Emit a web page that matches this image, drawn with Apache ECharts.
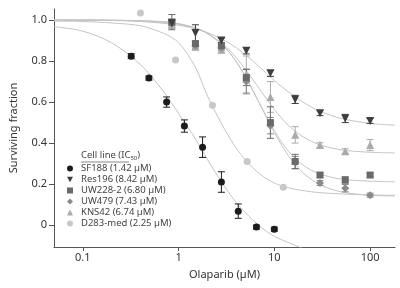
<!DOCTYPE html>
<html>
<head>
<meta charset="utf-8">
<script src="https://cdn.jsdelivr.net/npm/echarts@6/dist/echarts.min.js"></script>
<style>
  html, body { margin: 0; padding: 0; background: #fff; }
  #chart { width: 400px; height: 288px; }
</style>
</head>
<body>
<div id="chart"></div>
<script>
// doses in µM, values as surviving fraction
const sfDose = [0.32, 0.49, 0.75, 1.15, 1.78, 2.8, 4.2, 6.5, 10]
const sf188 = [0.824, 0.717, 0.6, 0.483, 0.38, 0.21, 0.068, -0.01, -0.02]
const sf188Err = [0.012, 0.01, 0.025, 0.03, 0.05, 0.05, 0.035, 0.01, 0.01]

const dose = [0.85, 1.5, 2.8, 5.1, 9.1, 16.5, 30, 55, 100]
const res196 = [0.985, 0.937, 0.9, 0.85, 0.74, 0.613, 0.546, 0.52, 0.508]
const res196Err = [0.01, 0.04, 0.012, 0.015, 0.015, 0.02, 0.012, 0.02, 0.012]
const uw228 = [0.99, 0.885, 0.875, 0.72, 0.5, 0.31, 0.244, 0.22, 0.244]
const uw228Err = [0.037, 0.012, 0.015, 0.04, 0.077, 0.035, 0.012, 0.015, 0.01]
const uw479 = [0.985, 0.875, 0.865, 0.7, 0.485, 0.305, 0.205, 0.18, 0.146]
const uw479Err = [0.02, 0.012, 0.012, 0.06, 0.04, 0.03, 0.012, 0.018, 0.01]
const kns42 = [0.98, 0.87, 0.855, 0.735, 0.625, 0.44, 0.39, 0.36, 0.39]
const kns42Err = [0.02, 0.015, 0.015, 0.09, 0.075, 0.04, 0.012, 0.012, 0.027]

const d283Dose = [0.4, 0.93, 2.26, 5.2, 12.4]
const d283 = [1.034, 0.805, 0.585, 0.31, 0.185]

// fitted curves
const curveX = [0.05, 0.1, 0.2, 0.4, 0.7, 1, 1.5, 2, 3, 4, 5, 7, 10, 14, 20, 30, 50, 100, 182]
const sf188Fit = [0.968, 0.946, 0.889, 0.783, 0.65, 0.544, 0.42, 0.32, 0.19, 0.11, 0.06, -0.005, -0.055, -0.085, -0.115]
const res196Fit = [1.0, 1.0, 0.998, 0.993, 0.984, 0.975, 0.958, 0.939, 0.901, 0.865, 0.831, 0.772, 0.705, 0.65, 0.599, 0.555, 0.52, 0.496, 0.487]
const uw228Fit = [1.0, 1.0, 0.999, 0.997, 0.992, 0.983, 0.962, 0.937, 0.871, 0.797, 0.723, 0.593, 0.46, 0.361, 0.292, 0.249, 0.224, 0.214, 0.211]
const uw479Fit = [1.0, 1.0, 0.999, 0.996, 0.99, 0.981, 0.96, 0.934, 0.87, 0.797, 0.725, 0.594, 0.452, 0.339, 0.254, 0.197, 0.162, 0.145, 0.142]
const kns42Fit = [1.0, 1.0, 0.999, 0.996, 0.989, 0.98, 0.96, 0.934, 0.877, 0.817, 0.76, 0.664, 0.564, 0.487, 0.43, 0.391, 0.367, 0.355, 0.352]
const d283Fit = [0.995, 0.993, 0.986, 0.972, 0.935, 0.89, 0.77, 0.63, 0.47, 0.375, 0.318, 0.25, 0.205, 0.182, 0.168, 0.158, 0.152, 0.147, 0.145]

const xTicks = [0.1, 1, 10, 100]
const yTicks = [0, 0.2, 0.4, 0.6, 0.8, 1.0]

const FONT = 'Noto Sans'
const curveColor = '#c4c4c4'
const lg = v => Math.log10(v)

const lines = [
  { name: 'SF188 (1.42 µM)', x: sfDose, y: sf188, err: sf188Err, fit: sf188Fit, color: '#1c1c1c', symbol: 'circle', size: 7 },
  { name: 'Res196 (8.42 µM)', x: dose, y: res196, err: res196Err, fit: res196Fit, color: '#3e3e3e', symbol: 'path://M0,0 L10,0 L5,9 Z', size: 8 },
  { name: 'UW228-2 (6.80 µM)', x: dose, y: uw228, err: uw228Err, fit: uw228Fit, color: '#6a6a6a', symbol: 'rect', size: 7 },
  { name: 'UW479 (7.43 µM)', x: dose, y: uw479, err: uw479Err, fit: uw479Fit, color: '#8a8a8a', symbol: 'diamond', size: 8 },
  { name: 'KNS42 (6.74 µM)', x: dose, y: kns42, err: kns42Err, fit: kns42Fit, color: '#ababab', symbol: 'triangle', size: 8 },
  { name: 'D283-med (2.25 µM)', x: d283Dose, y: d283, err: null, fit: d283Fit, color: '#c8c8c8', symbol: 'circle', size: 7 }
]

const chart = echarts.init(document.getElementById('chart'), null, { renderer: 'canvas' })

const series = []
lines.forEach(l => {
  series.push({
    type: 'line',
    silent: true,
    data: l.fit.map((v, i) => [lg(curveX[i]), v]),
    smooth: 0.3,
    showSymbol: false,
    symbol: 'none',
    lineStyle: { color: curveColor, width: 1 },
    z: 1
  })
})

lines.slice().reverse().forEach(l => {
  if (l.err) {
    series.push({
      type: 'custom',
      silent: true,
      z: 2,
      data: l.x.map((x, i) => [lg(x), l.y[i] - l.err[i], l.y[i] + l.err[i]]),
      renderItem: (params, api) => {
        const lo = api.coord([api.value(0), api.value(1)])
        const hi = api.coord([api.value(0), api.value(2)])
        const w = 3.5
        const style = { stroke: l.color, lineWidth: 1 }
        return {
          type: 'group',
          children: [
            { type: 'line', shape: { x1: lo[0], y1: lo[1], x2: hi[0], y2: hi[1] }, style },
            { type: 'line', shape: { x1: lo[0] - w, y1: lo[1], x2: lo[0] + w, y2: lo[1] }, style },
            { type: 'line', shape: { x1: hi[0] - w, y1: hi[1], x2: hi[0] + w, y2: hi[1] }, style }
          ]
        }
      }
    })
  }
  series.push({
    name: l.name,
    type: 'scatter',
    data: l.x.map((x, i) => [lg(x), l.y[i]]),
    symbol: l.symbol,
    symbolSize: l.size,
    itemStyle: { color: l.color, opacity: 1 },
    z: 3
  })
})

chart.setOption({
  animation: false,
  textStyle: { fontFamily: FONT },
  grid: { left: 53, right: 5, top: 9, bottom: 41 },
  legend: {
    data: lines.map(l => l.name),
    orient: 'vertical',
    left: 67,
    top: 163,
    itemWidth: 6,
    itemHeight: 6,
    itemGap: 0,
    padding: 0,
    textStyle: { fontSize: 9.5, color: '#444', fontFamily: FONT, lineHeight: 11, padding: [0, 0, 0, 3] },
    selectedMode: false
  },
  graphic: [
    {
      type: 'text',
      left: 81,
      top: 150,
      style: {
        text: '{a|Cell line (IC}{s|50}{a|)}',
        rich: {
          a: { fontSize: 9.5, fill: '#444', fontFamily: FONT },
          s: { fontSize: 6, fill: '#444', fontFamily: FONT, padding: [6, 0, 0, 0] }
        }
      }
    },
    {
      type: 'line',
      shape: { x1: 81, y1: 162, x2: 129, y2: 162 },
      style: { stroke: '#555', lineWidth: 0.7 }
    }
  ],
  xAxis: {
    type: 'value',
    min: lg(0.05),
    max: lg(182),
    name: 'Olaparib (µM)',
    nameLocation: 'middle',
    nameGap: 22,
    nameTextStyle: { fontSize: 11, color: '#333', fontFamily: FONT },
    axisLine: { onZero: false, lineStyle: { color: '#555', width: 1 } },
    axisTick: { show: true, length: 4, customValues: xTicks.map(lg), lineStyle: { color: '#555' } },
    axisLabel: {
      customValues: xTicks.map(lg),
      fontSize: 11,
      color: '#333',
      margin: 5,
      formatter: v => String(xTicks.find(t => Math.abs(lg(t) - v) < 1e-6))
    },
    splitLine: { show: false }
  },
  yAxis: {
    type: 'value',
    min: -0.107,
    max: 1.054,
    name: 'Surviving fraction',
    nameLocation: 'middle',
    nameGap: 35,
    nameTextStyle: { fontSize: 11, color: '#333', fontFamily: FONT },
    axisLine: { show: true, onZero: false, lineStyle: { color: '#555', width: 1 } },
    axisTick: { show: true, length: 5, customValues: yTicks, lineStyle: { color: '#555' } },
    axisLabel: {
      customValues: yTicks,
      fontSize: 11,
      color: '#333',
      margin: 7,
      formatter: v => (Math.abs(v) < 1e-9 ? '0' : v.toFixed(1))
    },
    splitLine: { show: false }
  },
  series
})
</script>
</body>
</html>
